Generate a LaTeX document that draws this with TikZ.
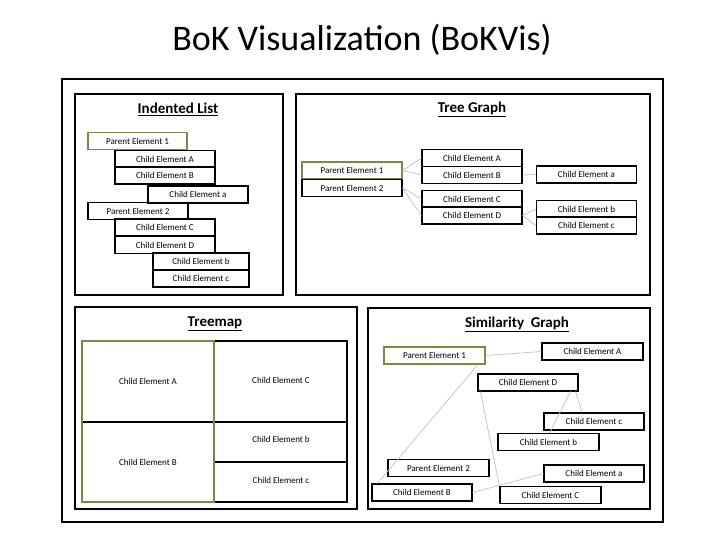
\documentclass[tikz,border=0pt]{standalone}
\usepackage{fontspec}
\setmainfont{Carlito}
\usepackage{tikz}
\usetikzlibrary{positioning}
\usepackage{xcolor}
\definecolor{leaf}{RGB}{118,140,70}
\tikzset{
  panel/.style={draw=black, line width=1.8pt},
  elem/.style={draw=black, line width=1.2pt, minimum width=100pt, minimum height=17pt, inner sep=0pt, font=\fontsize{9}{9}\selectfont},
  chosen/.style={elem, draw=leaf, line width=1.5pt},
  ptitle/.style={font=\fontsize{15}{15}\selectfont\bfseries},
  link/.style={draw=black!22, line width=0.8pt}
}
\begin{document}
\begin{tikzpicture}[x=1pt,y=-1pt]
				\useasboundingbox (0,0) rectangle (720,540);
				\node (title) at (362,40) {\fontsize{36}{36}\selectfont BoK Visualization (BoKVis)};
				\draw[line width=2.2pt] (62,79) rectangle (663,522);
				% panels
				\draw[panel] (75,94) rectangle (283,295);
				\draw[panel] (296,94) rectangle (650,295);
				\draw[panel] (75,307) rectangle (357,509);
				\draw[panel] (368,308) rectangle (650,509);
				% indented list
				\node[ptitle] (ltitle) at (178,109) {\underline{Indented List}};
				\node[chosen, minimum width=99pt] (lp1) at (137.5,141) {Parent Element 1};
				\node[elem] (la) at (165,159) {Child Element A};
				\node[elem] (lb) at (165,175.5) {Child Element B};
				\node[elem] (lsa) at (198,194.5) {Child Element a};
				\node[elem] (lp2) at (138,211) {Parent Element 2};
				\node[elem] (lc) at (165,227.5) {Child Element C};
				\node[elem] (ld) at (165,245) {Child Element D};
				\node[elem, minimum width=96pt] (lsb) at (201,261.5) {Child Element b};
				\node[elem, minimum width=96pt] (lsc) at (201,278.5) {Child Element c};
				% tree graph
				\node[ptitle] (ttitle) at (472,109) {\underline{Tree Graph}};
				\node[chosen] (tp1) at (352,170.5) {Parent Element 1};
				\node[elem] (tp2) at (352,188) {Parent Element 2};
				\node[elem] (ta) at (472,158) {Child Element A};
				\node[elem] (tb) at (472,175) {Child Element B};
				\node[elem] (tc) at (472,199) {Child Element C};
				\node[elem] (td) at (472,215.5) {Child Element D};
				\node[elem] (tsa) at (586.5,174.5) {Child Element a};
				\node[elem] (tsb) at (586.5,209) {Child Element b};
				\node[elem] (tsc) at (586.5,225.5) {Child Element c};
				\draw[link] (tp1.east) -- (ta.west);
				\draw[link] (tp1.east) -- (tb.west);
				\draw[link] (tp2.east) -- (tc.west);
				\draw[link] (tp2.east) -- (td.west);
				\draw[link] (tb.east) -- (tsa.west);
				\draw[link] (td.east) -- (tsb.west);
				\draw[link] (td.east) -- (tsc.west);
				% treemap
				\node[ptitle] (mtitle) at (215,324) {\underline{Treemap}};
				\draw[line width=1.2pt] (82,341) rectangle (347,502);
				\draw[line width=1.2pt] (214,341) -- (214,502);
				\draw[line width=1.2pt] (82,422) -- (347,422);
				\draw[line width=1.2pt] (214,462) -- (347,462);
				\draw[draw=leaf, line width=2pt] (82,341) rectangle (214,502);
				\node[font=\fontsize{9}{9}\selectfont] (ma) at (148,381) {Child Element A};
				\node[font=\fontsize{9}{9}\selectfont] (mb) at (148,462) {Child Element B};
				\node[font=\fontsize{9}{9}\selectfont] (mc) at (281,380) {Child Element C};
				\node[font=\fontsize{9}{9}\selectfont] (msb) at (281,439) {Child Element b};
				\node[font=\fontsize{9}{9}\selectfont] (msc) at (281,480) {Child Element c};
				% similarity graph
				\node[ptitle] (stitle) at (517,324) {\underline{Similarity\ \ Graph}};
				\node[chosen, minimum width=101pt] (sp1) at (434.5,355.5) {Parent Element 1};
				\node[elem, minimum width=101pt] (sa) at (592.5,351.5) {Child Element A};
				\node[elem] (sd) at (528,382.5) {Child Element D};
				\node[elem] (ssc) at (594,421.5) {Child Element c};
				\node[elem, minimum width=101pt] (ssb) at (548.5,442) {Child Element b};
				\node[elem, minimum width=101pt] (sp2) at (438.5,468) {Parent Element 2};
				\node[elem] (ssa) at (594,473.5) {Child Element a};
				\node[elem] (sb) at (422,492.5) {Child Element B};
				\node[elem, minimum width=101pt] (sc) at (550.5,495) {Child Element C};
				\draw[link] (sp1.east) -- (sa.west);
				\draw[link] ([xshift=-8pt]sp1.south east) -- ([xshift=6pt]sb.north west);
				\draw[link] ([xshift=3pt]sd.south west) -- (sc.north west);
				\draw[link] ([xshift=-8pt]sd.south east) -- ([xshift=-50pt]ssb.north east);
				\draw[link] ([xshift=-3pt]sd.south east) -- ([xshift=-12pt]ssc.north);
				\draw[link] (sb.east) -- (ssa.west);
\end{tikzpicture}
\end{document}
